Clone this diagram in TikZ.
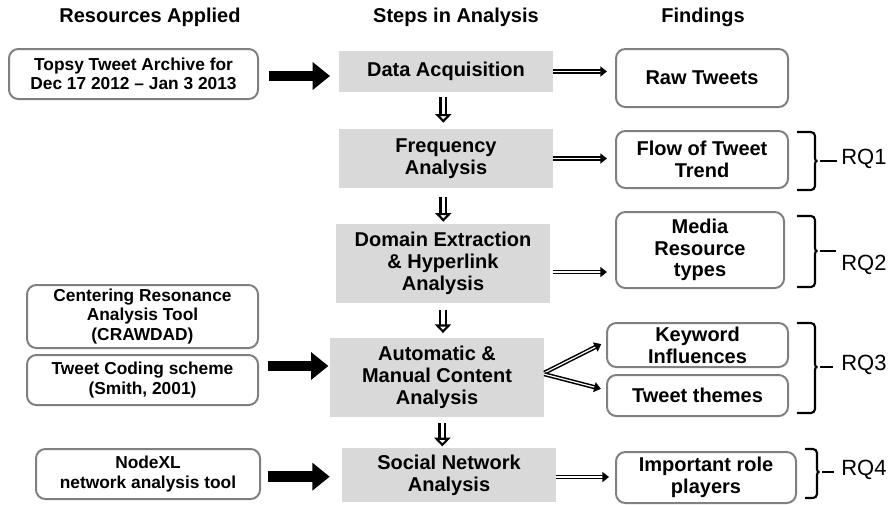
\documentclass[tikz,border=0pt]{standalone}
\usepackage{fontspec}
\setmainfont{Liberation Sans}
\usetikzlibrary{arrows.meta,calc}
\definecolor{boxgray}{HTML}{808080}
\definecolor{stepfill}{HTML}{D9D9D9}
\begin{document}
\begin{tikzpicture}[x=0.75pt,y=-0.75pt,
 res/.style={draw=boxgray, line width=1.5pt, rounded corners=7pt, fill=white, align=center, font=\bfseries\fontsize{13}{14.3}\selectfont, inner sep=0pt},
 stepbox/.style={fill=stepfill, align=center, font=\bfseries\fontsize{15}{16.3}\selectfont, inner sep=0pt},
 find/.style={draw=boxgray, line width=1.5pt, rounded corners=7pt, fill=white, align=center, font=\bfseries\fontsize{15}{16.3}\selectfont, inner sep=0pt},
 head/.style={font=\bfseries\fontsize{15}{18}\selectfont, inner sep=0pt},
 rq/.style={font=\fontsize{16.5}{19}\selectfont, anchor=west, inner sep=0pt},
 bigarrow/.style={line width=8pt, -{Triangle[length=13pt,width=20pt]}},
 dblarrow/.style={double, double distance=0.9pt, line width=1.15pt, -{Triangle[length=5pt,width=7.5pt]}},
 downarrow/.style={double, double distance=2.6pt, line width=1.6pt, -{Triangle[open,length=6.5pt,width=12pt]}},
 brace/.style={line width=1.6pt},
]
\useasboundingbox (0,0) rectangle (892,504);

% headings
\node[head] (h1) at (150,17) {Resources Applied};
\node[head] (h2) at (456,17) {Steps in Analysis};
\node[head] (h3) at (703,17) {Findings};

% resources
\node[res, minimum width=186.75pt, minimum height=37.5pt] (topsy) at (133.5,74) {Topsy Tweet Archive for\\Dec 17 2012 -- Jan 3 2013};
\node[res, minimum width=173.25pt, minimum height=47.25pt] (craw) at (142.5,316.5) {Centering Resonance\\Analysis Tool\\(CRAWDAD)};
\node[res, minimum width=173.25pt, minimum height=37.5pt] (tcs) at (142.5,380) {Tweet Coding scheme\\(Smith, 2001)};
\node[res, minimum width=168pt, minimum height=37.5pt] (nodexl) at (148,474) {NodeXL\\network analysis tool};

% steps
\node[stepbox, minimum width=160.5pt, minimum height=30.75pt] (daq) at (446,71.5) {Data Acquisition};
\node[stepbox, minimum width=160.5pt, minimum height=44.25pt] (freq) at (446,158.5) {Frequency\\Analysis};
\node[stepbox, minimum width=160.5pt, minimum height=59.25pt] (dom) at (443,263.5) {Domain Extraction\\\& Hyperlink\\Analysis};
\node[stepbox, minimum width=160.5pt, minimum height=59.25pt] (auto) at (437,377.5) {Automatic \&\\Manual Content\\Analysis};
\node[stepbox, minimum width=160.5pt, minimum height=40.5pt] (sna) at (449,475) {Social Network\\Analysis};

% findings
\node[find, minimum width=129pt, minimum height=43.5pt] (raw) at (702,78) {Raw Tweets};
\node[find, minimum width=129pt, minimum height=42.75pt] (flow) at (702,159.5) {Flow of Tweet\\Trend};
\node[find, minimum width=126pt, minimum height=57pt] (media) at (700,250) {Media\\Resource\\types};
\node[find, minimum width=135.75pt, minimum height=33pt] (kw) at (697.5,345) {Keyword\\Influences};
\node[find, minimum width=135.75pt, minimum height=30.75pt] (tt) at (697.5,395.5) {Tweet themes};
\node[find, minimum width=135pt, minimum height=38.25pt] (irp) at (706,477.5) {Important role\\players};

% big arrows
\draw[bigarrow, shorten <=7.5pt, shorten >=6.5pt] ([yshift=-1.5pt]topsy.east) -- ([yshift=-1.5pt]topsy.east -| daq.west);
\draw[bigarrow, shorten <=7pt, shorten >=1pt] ([yshift=10.5pt]tcs.east) -- ([yshift=10.5pt]tcs.east -| auto.west);
\draw[bigarrow, shorten <=5.5pt, shorten >=9pt] ([yshift=-2pt]nodexl.east) -- ([yshift=-2pt]nodexl.east -| sna.west);

% step to finding arrows
\draw[dblarrow, shorten >=6pt] (daq.east) -- (daq.east -| raw.west);
\draw[dblarrow, shorten >=6pt] (freq.east) -- (freq.east -| flow.west);
\draw[dblarrow, shorten <=2pt, shorten >=6pt] ([yshift=-6.4pt]dom.east) -- ([yshift=-6.4pt]dom.east -| media.west);
\draw[dblarrow, shorten >=4pt] ([yshift=3.5pt]auto.east) -- ([yshift=2.5pt]kw.west);
\draw[dblarrow, shorten >=4pt] ([yshift=2.5pt]auto.east) -- ([yshift=4pt]tt.west);
\draw[dblarrow, shorten >=4.5pt] ([yshift=-1.5pt]sna.east) -- ([yshift=-1.5pt]sna.east -| irp.west);

% down arrows
\draw[downarrow, shorten <=3.5pt, shorten >=4.5pt] ([xshift=-2pt]daq.south) -- ([xshift=-2pt]daq.south |- freq.north);
\draw[downarrow, shorten <=6.5pt, shorten >=1.5pt] ([xshift=-2pt]freq.south) -- ([xshift=-2pt]freq.south |- dom.north);
\draw[downarrow, shorten <=5pt, shorten >=3.5pt] (dom.south) -- (dom.south |- auto.north);
\draw[downarrow, shorten <=4.5pt, shorten >=1pt] ([xshift=-0.5pt]dom.south |- auto.south) -- ([xshift=-0.5pt]dom.south |- sna.north);

% braces and labels
\node[rq] (rq1) at (841,159) {RQ1};
\node[rq] (rq2) at (841,265) {RQ2};
\node[rq] (rq3) at (841,365) {RQ3};
\node[rq] (rq4) at (841,470) {RQ4};

\draw[brace, rounded corners=3pt] (797,132) -- (815,132) -- (815,154) .. controls (815,159) and (816,161) .. (820,161) .. controls (816,161) and (815,163) .. (815,168) -- (815,190) -- (797,190);
\draw[brace] (820,161) -- (837,161);

\draw[brace, rounded corners=3pt] (797,216) -- (815,216) -- (815,244) .. controls (815,249) and (816,251) .. (820,251) .. controls (816,251) and (815,253) .. (815,258) -- (815,287) -- (797,287);
\draw[brace] (820,251) -- (836,251);

\draw[brace, rounded corners=3pt] (797,323) -- (815,323) -- (815,360) .. controls (815,365) and (816,367) .. (820,367) .. controls (816,367) and (815,369) .. (815,374) -- (815,413) -- (797,413);
\draw[brace] (820,367) -- (833,367);

\draw[brace, rounded corners=3pt] (805,449) -- (817,449) -- (817,465) .. controls (817,470) and (818,472) .. (822,472) .. controls (818,472) and (817,474) .. (817,479) -- (817,498) -- (805,498);
\draw[brace] (822,472) -- (834,472);
\end{tikzpicture}
\end{document}
